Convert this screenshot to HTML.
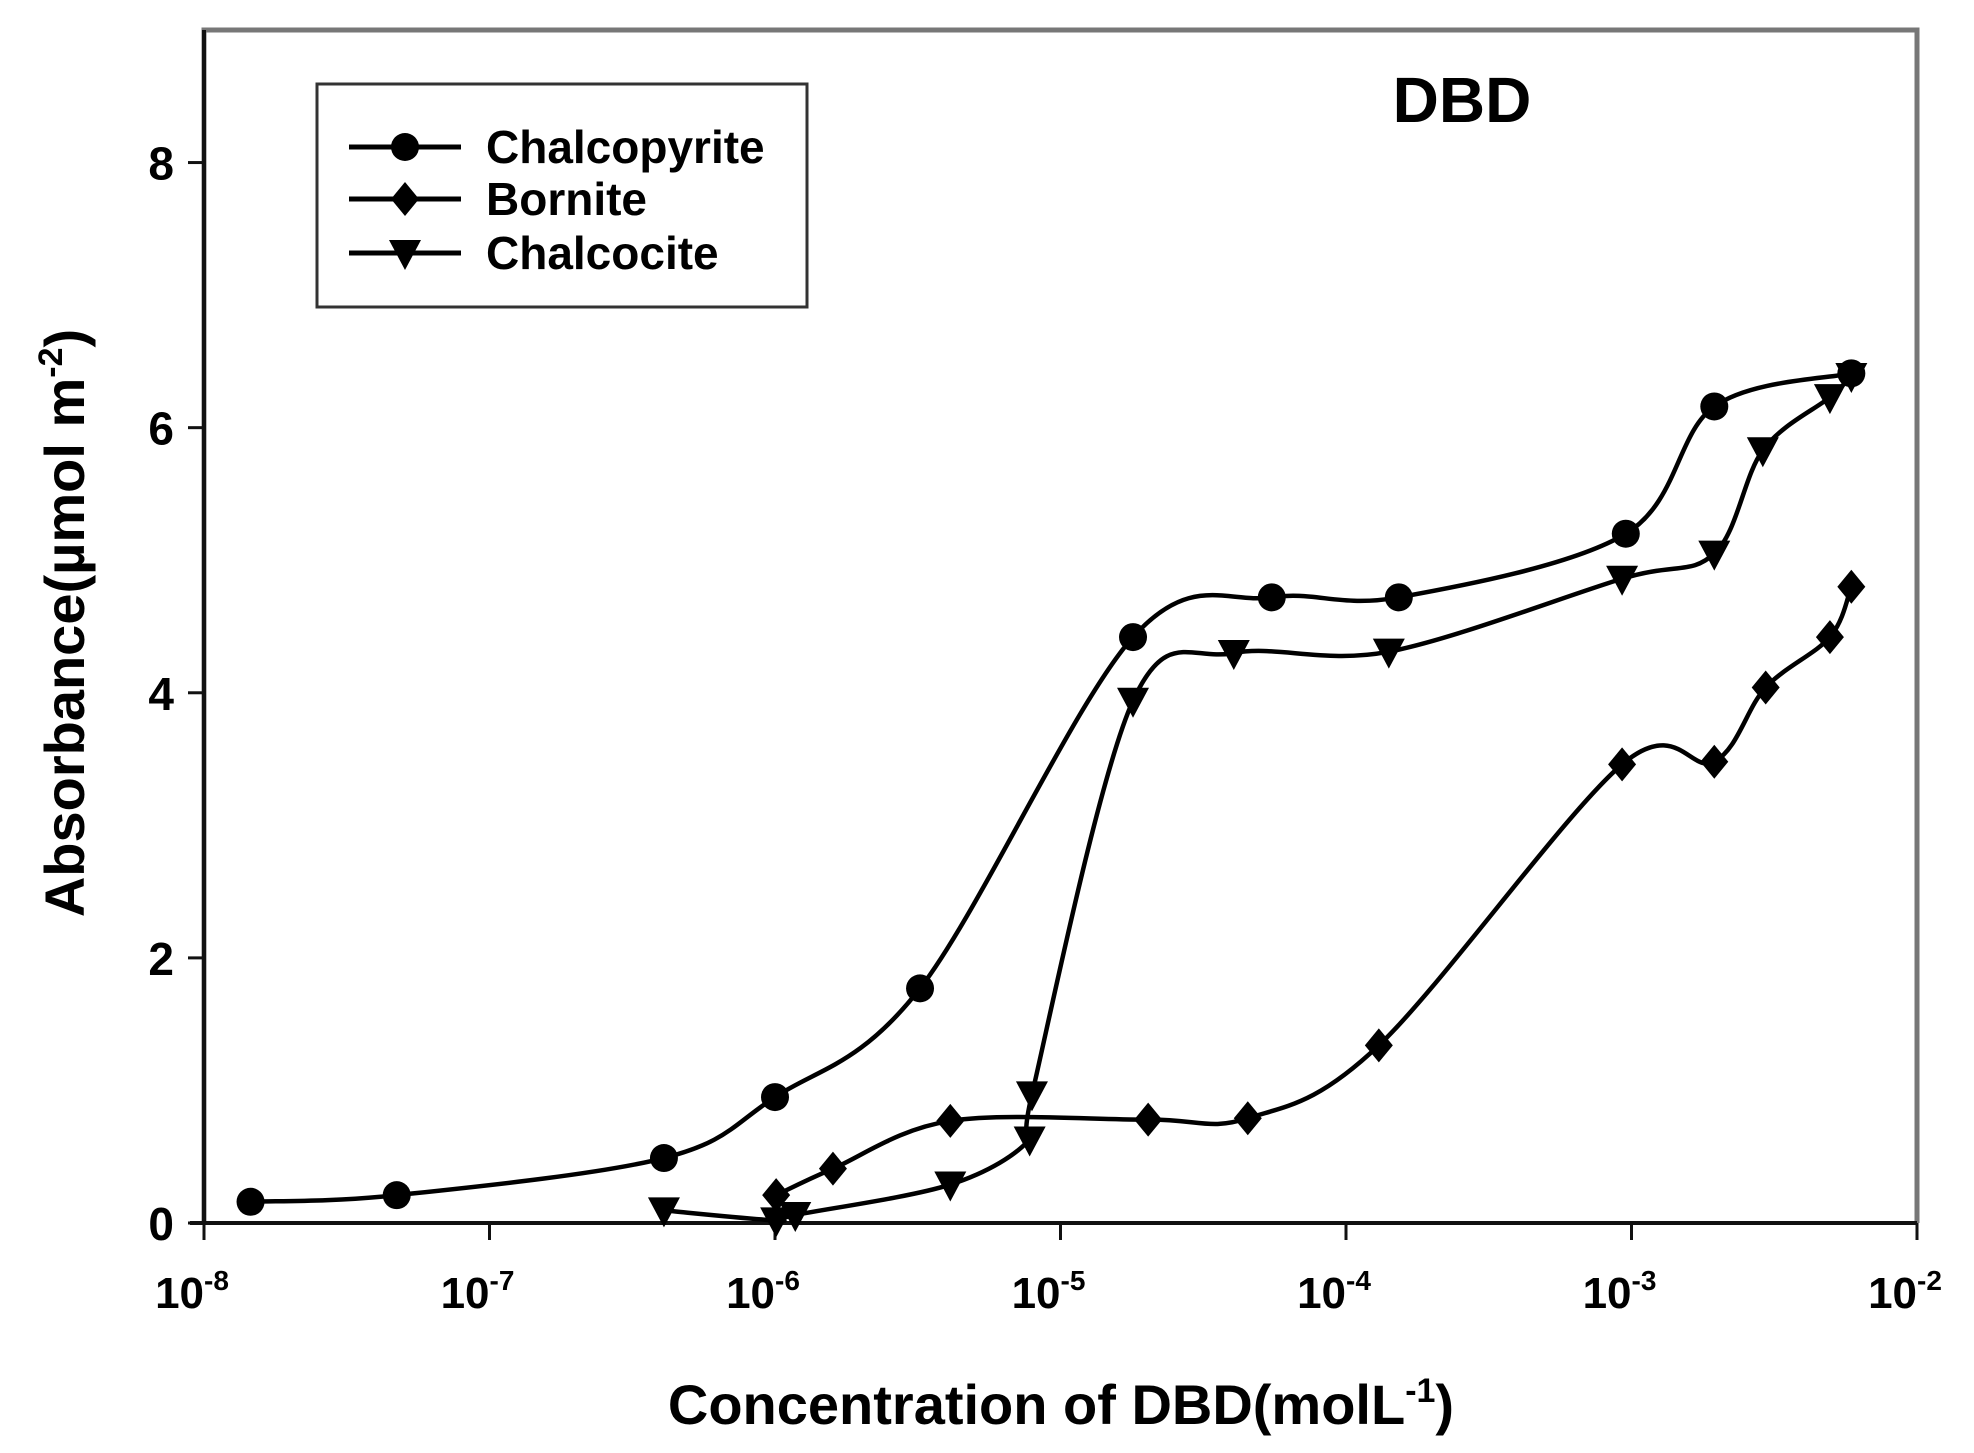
<!DOCTYPE html>
<html><head><meta charset="utf-8"><style>
html,body{margin:0;padding:0;background:#fff;}
svg{display:block;font-family:"Liberation Sans",Arial,sans-serif;font-weight:bold;}
</style></head><body>
<svg id="chart" width="1974" height="1453" viewBox="0 0 1974 1453" xmlns="http://www.w3.org/2000/svg">
<rect x="0" y="0" width="1974" height="1453" fill="#fff"/>
<g id="plot"></g>
</svg>
<script>
const xTickExps = [-8, -7, -6, -5, -4, -3, -2];
const yTicks = [0, 2, 4, 6, 8];
const seriesNames = ["Chalcopyrite", "Bornite", "Chalcocite"];
const chalcopyriteLogX = [-7.837, -7.325, -6.389, -6.0, -5.492, -4.746, -4.26, -3.815, -3.02, -2.71, -2.23];
const chalcopyriteY = [0.16, 0.21, 0.49, 0.95, 1.77, 4.42, 4.72, 4.72, 5.2, 6.16, 6.41];
const borniteLogX = [-5.996, -5.797, -5.386, -4.693, -4.344, -3.885, -3.033, -2.71, -2.53, -2.305, -2.23];
const borniteY = [0.21, 0.41, 0.77, 0.78, 0.79, 1.34, 3.46, 3.48, 4.04, 4.42, 4.80];
const chalcociteLogX = [-6.389, -5.996, -5.929, -5.386, -5.108, -5.1, -4.746, -4.393, -3.85, -3.033, -2.71, -2.54, -2.305, -2.23];
const chalcociteY = [0.095, 0.02, 0.06, 0.29, 0.63, 0.97, 3.94, 4.30, 4.31, 4.86, 5.05, 5.83, 6.23, 6.39];

const NS = "http://www.w3.org/2000/svg";
const L = 204, R = 1917, T = 30, B = 1223;
const xMin = -8, xMax = -2, yMin = 0, yMax = 9.0;
function xs(v){ return L + (v - xMin) / (xMax - xMin) * (R - L); }
function ys(v){ return B - (v - yMin) / (yMax - yMin) * (B - T); }
const g = document.getElementById('plot');
function mk(tag, attrs, parent){
  const e = document.createElementNS(NS, tag);
  for (const k in attrs) e.setAttribute(k, attrs[k]);
  (parent || g).appendChild(e);
  return e;
}

const frame = mk('path', {d:`M${L},${B} L${L},${T} L${R},${T} L${R},${B}`, fill:'none', stroke:'#777', 'stroke-width':5});


const xAxis = mk('line', {x1:L-14, y1:B, x2:R, y2:B, stroke:'#111', 'stroke-width':4});


const yAxis = mk('line', {x1:L, y1:B+2, x2:L, y2:T, stroke:'#111', 'stroke-width':4});



yTicks.forEach(v => {
  const y = ys(v);
  const t = mk('line', {x1:L-16, y1:y, x2:L, y2:y, stroke:'#111', 'stroke-width':3});
  
  
  const lb = mk('text', {x:L-30, y:y+17, 'text-anchor':'end', 'font-size':46});
  lb.textContent = v;
  
  
});
xTickExps.forEach(e => {
  const x = xs(e);
  const t = mk('line', {x1:x, y1:B, x2:x, y2:B+17, stroke:'#111', 'stroke-width':3});
  
  
  const lb = mk('text', {x:x-12, y:1308, 'text-anchor':'middle', 'font-size':44});
  
  
  const t1 = mk('tspan', {}, lb); t1.textContent = '10';
  const t2 = mk('tspan', {'font-size':28, dy:-18}, lb); t2.textContent = String(e);
});

const xt = mk('text', {x:1061, y:1424, 'text-anchor':'middle', 'font-size':56});


mk('tspan', {}, xt).textContent = 'Concentration of DBD(molL';
mk('tspan', {'font-size':34, dy:-22}, xt).textContent = '-1';
mk('tspan', {dy:22}, xt).textContent = ')';

const yt = mk('text', {x:0, y:0, 'text-anchor':'middle', 'font-size':56, transform:'translate(84,623) rotate(-90)'});


mk('tspan', {}, yt).textContent = 'Absorbance(\u00b5mol m';
mk('tspan', {'font-size':34, dy:-22}, yt).textContent = '-2';
mk('tspan', {dy:22}, yt).textContent = ')';

const title = mk('text', {x:1462, y:122, 'text-anchor':'middle', 'font-size':64});
title.textContent = 'DBD';



function smooth(pts){
  let d = `M${pts[0][0]},${pts[0][1]}`;
  for (let i = 0; i < pts.length - 1; i++){
    const p0 = pts[i-1] || pts[i], p1 = pts[i], p2 = pts[i+1], p3 = pts[i+2] || p2;
    const c1 = [p1[0] + (p2[0]-p0[0])/6, p1[1] + (p2[1]-p0[1])/6];
    const c2 = [p2[0] - (p3[0]-p1[0])/6, p2[1] - (p3[1]-p1[1])/6];
    d += ` C${c1[0]},${c1[1]} ${c2[0]},${c2[1]} ${p2[0]},${p2[1]}`;
  }
  return d;
}
function marker(type, x, y, parent){
  let m;
  if (type === 'circle') m = mk('circle', {cx:x, cy:y, r:14, fill:'#000'}, parent);
  else if (type === 'diamond') m = mk('polygon', {points:`${x},${y-17} ${x+14},${y} ${x},${y+17} ${x-14},${y}`, fill:'#000'}, parent);
  else m = mk('polygon', {points:`${x-16},${y-13} ${x+16},${y-13} ${x},${y+17}`, fill:'#000'}, parent);
  return m;
}
const allSeries = [
  {name: seriesNames[0], lx: chalcopyriteLogX, v: chalcopyriteY, m:'circle', key:'chalcopyrite'},
  {name: seriesNames[1], lx: borniteLogX, v: borniteY, m:'diamond', key:'bornite'},
  {name: seriesNames[2], lx: chalcociteLogX, v: chalcociteY, m:'triangle', key:'chalcocite'}
];
allSeries.forEach(s => {
  const grp = mk('g', {});
  
  
  const pts = s.lx.map((lx, i) => [xs(lx), ys(s.v[i])]);
  const line = mk('path', {d: smooth(pts), fill:'none', stroke:'#000', 'stroke-width':4.5}, grp);
  
  
  pts.forEach(p => {
    const m = marker(s.m, p[0], p[1], grp);
    
    
  });
});

const lg = mk('g', {});


mk('rect', {x:317, y:84, width:490, height:223, fill:'#fff', stroke:'#333', 'stroke-width':3}, lg);
const rowsY = [147, 199, 253];
allSeries.forEach((s, i) => {
  const e = mk('g', {}, lg);
  
  
  mk('line', {x1:349, y1:rowsY[i], x2:461, y2:rowsY[i], stroke:'#000', 'stroke-width':5}, e);
  marker(s.m, 405, rowsY[i], e);
  const tx = mk('text', {x:486, y:rowsY[i]+16, 'font-size':46}, e);
  tx.textContent = s.name;
});
</script>
</body></html>
